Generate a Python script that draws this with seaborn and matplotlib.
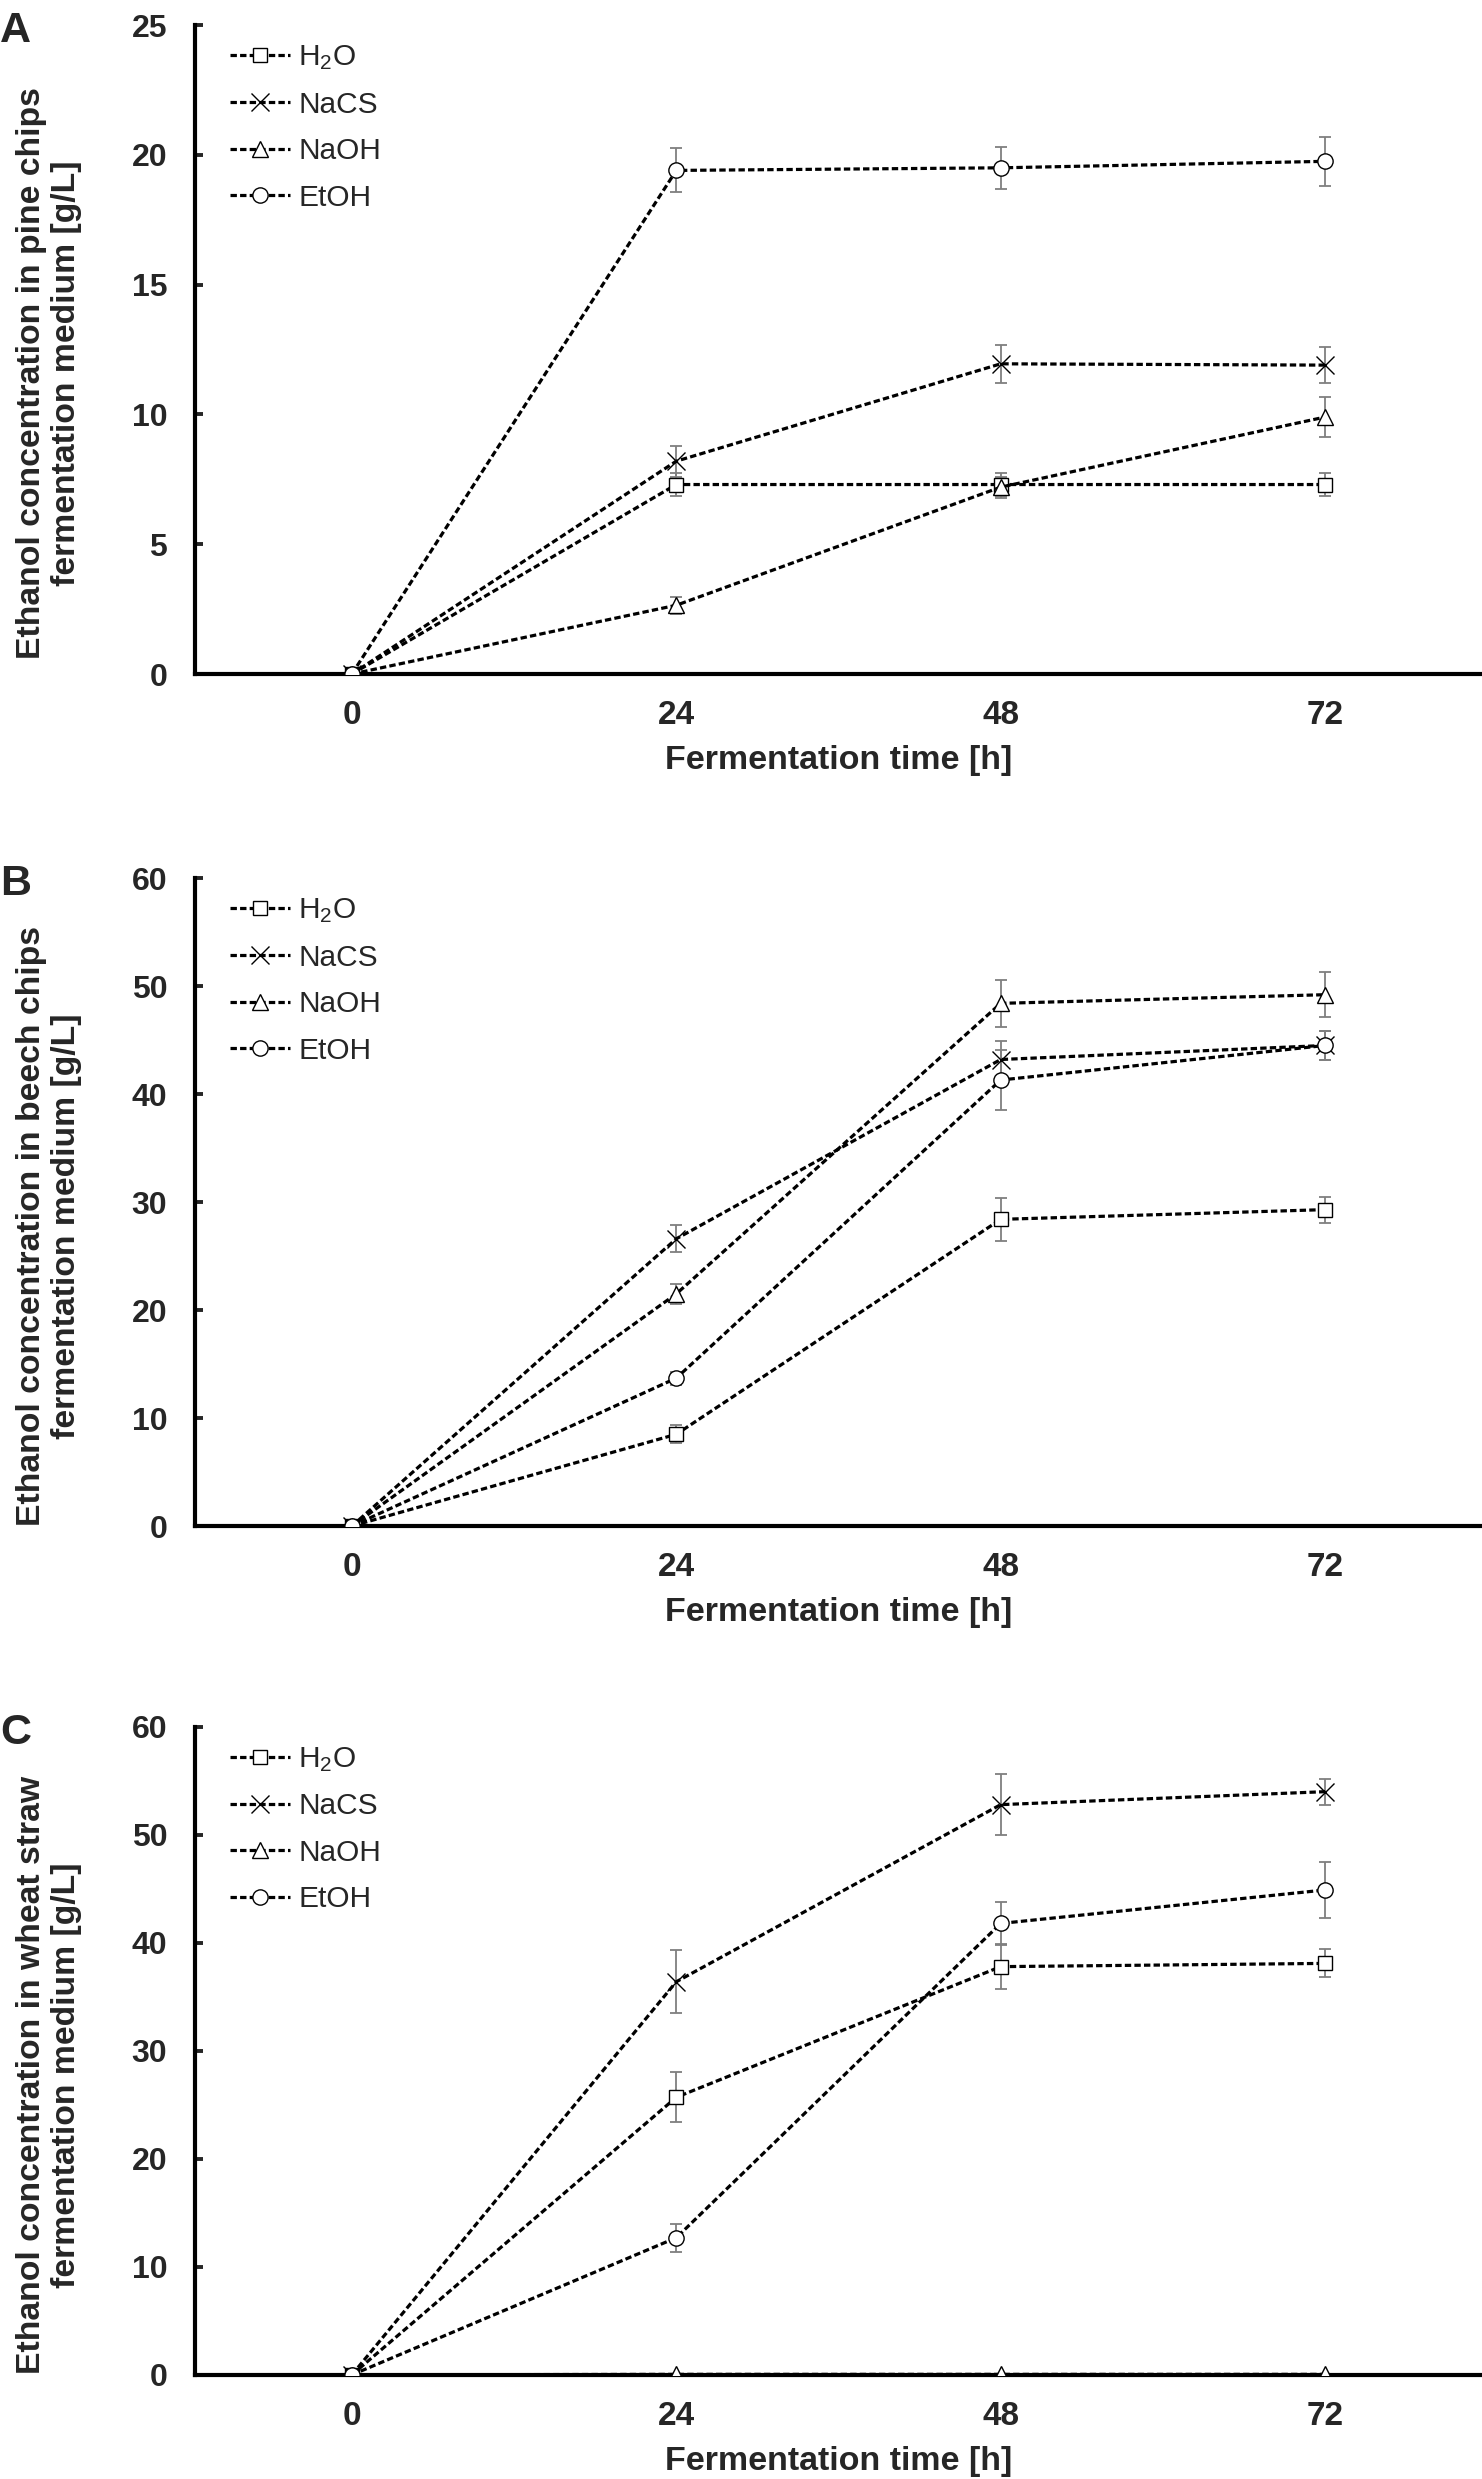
import numpy as np
import pandas as pd
import matplotlib
matplotlib.use("Agg")
import matplotlib.pyplot as plt
import seaborn as sns

# fermentation times and treatments
times = [0, 24, 48, 72]
treatments = ["H2O", "NaCS", "NaOH", "EtOH"]
legend_labels = ["H$_2$O", "NaCS", "NaOH", "EtOH"]

# A - pine chips
pine_h2o = [0, 7.3, 7.3, 7.3]
pine_h2o_sd = [0, 0.45, 0.45, 0.45]
pine_nacs = [0, 8.2, 11.95, 11.9]
pine_nacs_sd = [0, 0.6, 0.72, 0.7]
pine_naoh = [0, 2.65, 7.2, 9.9]
pine_naoh_sd = [0, 0.33, 0.4, 0.78]
pine_etoh = [0, 19.4, 19.5, 19.75]
pine_etoh_sd = [0, 0.85, 0.8, 0.95]

# B - beech chips
beech_h2o = [0, 8.5, 28.4, 29.3]
beech_h2o_sd = [0, 0.85, 2.0, 1.2]
beech_nacs = [0, 26.6, 43.2, 44.5]
beech_nacs_sd = [0, 1.25, 1.75, 1.3]
beech_naoh = [0, 21.5, 48.4, 49.2]
beech_naoh_sd = [0, 0.9, 2.2, 2.1]
beech_etoh = [0, 13.7, 41.3, 44.5]
beech_etoh_sd = [0, 0.6, 2.8, 1.3]

# C - wheat straw
wheat_h2o = [0, 25.7, 37.8, 38.1]
wheat_h2o_sd = [0, 2.3, 2.1, 1.3]
wheat_nacs = [0, 36.4, 52.8, 54.0]
wheat_nacs_sd = [0, 2.9, 2.8, 1.2]
wheat_naoh = [0, 0.05, 0.05, 0.05]
wheat_naoh_sd = [0, 0, 0, 0]
wheat_etoh = [0, 12.7, 41.8, 44.9]
wheat_etoh_sd = [0, 1.3, 2.0, 2.6]

panels = [
    ("A", "Ethanol concentration in pine chips\nfermentation medium [g/L]",
     [pine_h2o, pine_nacs, pine_naoh, pine_etoh],
     [pine_h2o_sd, pine_nacs_sd, pine_naoh_sd, pine_etoh_sd], 25, 5),
    ("B", "Ethanol concentration in beech chips\nfermentation medium [g/L]",
     [beech_h2o, beech_nacs, beech_naoh, beech_etoh],
     [beech_h2o_sd, beech_nacs_sd, beech_naoh_sd, beech_etoh_sd], 60, 10),
    ("C", "Ethanol concentration in wheat straw\nfermentation medium [g/L]",
     [wheat_h2o, wheat_nacs, wheat_naoh, wheat_etoh],
     [wheat_h2o_sd, wheat_nacs_sd, wheat_naoh_sd, wheat_etoh_sd], 60, 10),
]

sns.set_style("white")
plt.rcParams["font.family"] = ["Liberation Sans", "DejaVu Sans"]
plt.rcParams["mathtext.default"] = "regular"

markers = {"H2O": "s", "NaCS": "x", "NaOH": "^", "EtOH": "o"}
msizes = {"H2O": 10, "NaCS": 13, "NaOH": 11, "EtOH": 11}

fig = plt.figure(figsize=(14.82, 24.79), dpi=100)
positions = [[0.1316, 0.7281, 0.8684, 0.2618],
             [0.1316, 0.3844, 0.8684, 0.2614],
             [0.1316, 0.0420, 0.8684, 0.2614]]

for (letter, ylab, vals, sds, ymax, ystep), pos in zip(panels, positions):
    ax = fig.add_axes(pos)
    rows = []
    for t, v, s in zip(treatments, vals, sds):
        for x, y, e in zip(times, v, s):
            rows.append({"time": x, "conc": y, "sd": e, "treatment": t})
    df = pd.DataFrame(rows)

    handles = []
    for t in treatments:
        sub = df[df["treatment"] == t]
        # grey error bars behind the lines
        ax.errorbar(sub["time"], sub["conc"], yerr=sub["sd"], fmt="none",
                    ecolor="#7f7f7f", elinewidth=1.3, capsize=4.5, capthick=1.3, zorder=1)
        sns.lineplot(data=sub, x="time", y="conc", color="black", marker=markers[t],
                     linestyle=(0, (2.0, 1.0)), linewidth=2.3, markersize=msizes[t],
                     markerfacecolor="white", markeredgecolor="black",
                     markeredgewidth=1.0, estimator=None, sort=False, ax=ax, zorder=3)
        handles.append(ax.lines[-1])

    ax.legend(handles, legend_labels, loc="upper left", bbox_to_anchor=(0.027, 0.972),
              frameon=False, fontsize=21.5, handlelength=2.0, handletextpad=0.3,
              labelspacing=0.62, borderpad=0, borderaxespad=0)

    ax.set_xlim(-11.6, 83.6)
    ax.set_ylim(0, ymax)
    ax.set_xticks(times)
    ax.set_yticks(np.arange(0, ymax + 1, ystep))
    ax.tick_params(axis="x", length=0, pad=19, labelsize=24)
    ax.tick_params(axis="y", direction="in", length=6, width=2.8, pad=20, labelsize=23, left=True)
    for lab in ax.get_xticklabels() + ax.get_yticklabels():
        lab.set_fontweight("bold")

    sns.despine(ax=ax)
    for side in ["left", "bottom"]:
        ax.spines[side].set_linewidth(3.0)
        ax.spines[side].set_color("black")

    ax.set_xlabel("Fermentation time [h]", fontsize=24.5, fontweight="bold", labelpad=10)
    ax.set_ylabel(ylab, fontsize=24.3, fontweight="bold", linespacing=1.15)
    ax.yaxis.set_label_coords(-0.088, 0.463)

    top_px = (1 - (pos[1] + pos[3])) * 2479
    fig.text(0.0, 1 - (top_px - 14) / 2479, letter, fontsize=31, fontweight="bold",
             ha="left", va="top")

fig.savefig("out.png", dpi=100)
